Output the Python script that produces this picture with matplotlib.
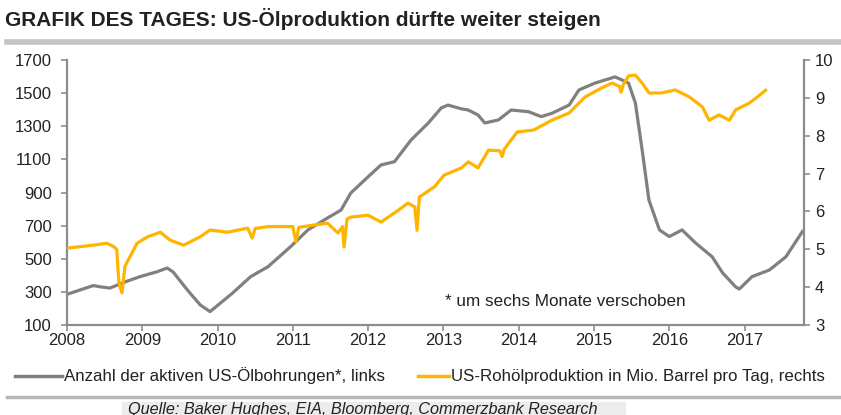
import matplotlib
matplotlib.use("Agg")
import matplotlib.pyplot as plt
from matplotlib.lines import Line2D
from matplotlib.patches import Rectangle

plt.rcParams['font.family'] = ['Liberation Sans', 'DejaVu Sans']

# ---- data (decimal years) ----
rig_years = [2008.0, 2008.17, 2008.35, 2008.45, 2008.57, 2008.8, 2008.97, 2009.2, 2009.33, 2009.41,
             2009.6, 2009.77, 2009.9, 2010.04, 2010.2, 2010.44, 2010.67, 2010.97, 2011.2, 2011.46,
             2011.64, 2011.77, 2012.0, 2012.17, 2012.35, 2012.57, 2012.8, 2012.97, 2013.06, 2013.24,
             2013.33, 2013.46, 2013.55, 2013.73, 2013.9, 2014.13, 2014.3, 2014.44, 2014.67, 2014.8,
             2015.01, 2015.28, 2015.37, 2015.46, 2015.55, 2015.64, 2015.73, 2015.87, 2016.0, 2016.17,
             2016.35, 2016.57, 2016.71, 2016.88, 2016.93, 2017.1, 2017.33, 2017.55, 2017.77]
rig_count = [285, 311, 338, 330, 323, 365, 392, 422, 444, 420,
             311, 221, 181, 233, 293, 392, 452, 573, 674, 746,
             794, 897, 995, 1066, 1086, 1217, 1320, 1410, 1428, 1405,
             1398, 1368, 1320, 1338, 1398, 1388, 1358, 1378, 1428, 1519,
             1560, 1598, 1580, 1560, 1440, 1157, 855, 674, 634, 674,
             595, 512, 414, 331, 317, 392, 432, 512, 665]

prod_years = [2008.0, 2008.35, 2008.53, 2008.62, 2008.66, 2008.69, 2008.73, 2008.77, 2008.93, 2009.07,
              2009.24, 2009.37, 2009.55, 2009.77, 2009.9, 2010.13, 2010.4, 2010.46, 2010.5, 2010.67,
              2011.0, 2011.04, 2011.08, 2011.28, 2011.46, 2011.6, 2011.66, 2011.68, 2011.72, 2011.77,
              2012.0, 2012.17, 2012.35, 2012.53, 2012.62, 2012.65, 2012.68, 2012.88, 2013.01, 2013.24,
              2013.33, 2013.46, 2013.6, 2013.75, 2013.78, 2013.81, 2013.98, 2014.2, 2014.44, 2014.67,
              2014.88, 2015.1, 2015.24, 2015.34, 2015.36, 2015.39, 2015.46, 2015.55, 2015.64, 2015.73,
              2015.9, 2016.08, 2016.27, 2016.44, 2016.53, 2016.66, 2016.8, 2016.88, 2017.06, 2017.15,
              2017.28]
prod_mbd = [5.03, 5.11, 5.16, 5.07, 5.0, 4.1, 3.85, 4.55, 5.16, 5.33,
            5.45, 5.24, 5.11, 5.33, 5.51, 5.45, 5.56, 5.3, 5.55, 5.6,
            5.6, 5.2, 5.58, 5.64, 5.69, 5.43, 5.6, 5.06, 5.8, 5.85,
            5.9, 5.72, 5.96, 6.22, 6.12, 5.5, 6.38, 6.65, 6.96, 7.15,
            7.31, 7.15, 7.62, 7.6, 7.45, 7.65, 8.1, 8.15, 8.41, 8.6,
            9.02, 9.26, 9.39, 9.3, 9.15, 9.35, 9.58, 9.6, 9.39, 9.13,
            9.13, 9.21, 9.02, 8.76, 8.41, 8.55, 8.41, 8.68, 8.86, 8.99,
            9.2]

year_ticks = [2008, 2009, 2010, 2011, 2012, 2013, 2014, 2015, 2016, 2017]
left_ticks = [100, 300, 500, 700, 900, 1100, 1300, 1500, 1700]
right_ticks = [3, 4, 5, 6, 7, 8, 9, 10]

title = "GRAFIK DES TAGES: US-Ölproduktion dürfte weiter steigen"
label_rig = "Anzahl der aktiven US-Ölbohrungen*, links"
label_prod = "US-Rohölproduktion in Mio. Barrel pro Tag, rechts"
note = "* um sechs Monate verschoben"
source = "Quelle: Baker Hughes, EIA, Bloomberg, Commerzbank Research"

GRAY = "#808080"
YELLOW = "#FFB400"
TXT = "#222222"
AX = "#8c8c8c"

W, H = 841, 415
fig = plt.figure(figsize=(W / 100, H / 100), dpi=100)

def fx(px):
    return px / W

def fy(py):
    return 1 - py / H

ax = fig.add_axes([fx(67), fy(325), fx(804) - fx(67), fy(60) - fy(325)])
ax2 = ax.twinx()

ax.plot(rig_years, rig_count, color=GRAY, lw=2.3, solid_joinstyle='round', zorder=2)
ax2.plot(prod_years, prod_mbd, color=YELLOW, lw=2.3, solid_joinstyle='round', zorder=3)

ax.set_xlim(2008, 2017.79)
ax.set_ylim(100, 1700)
ax2.set_ylim(3, 10)
ax.set_xticks(year_ticks)
ax.set_xticklabels([str(y) for y in year_ticks])
ax.set_yticks(left_ticks)
ax2.set_yticks(right_ticks)

for a in (ax, ax2):
    a.spines['top'].set_visible(False)
    for s in ('left', 'right', 'bottom'):
        a.spines[s].set_color(AX)
        a.spines[s].set_linewidth(1.6)
    a.tick_params(colors=AX, labelcolor=TXT, labelsize=12, length=4, width=1.2, direction='out')
ax.spines['right'].set_visible(False)
ax2.spines['left'].set_visible(False)
ax2.spines['bottom'].set_visible(False)
ax.tick_params(axis='y', pad=7)
ax2.tick_params(axis='y', pad=4)
ax.tick_params(axis='x', pad=2)

ax2.text(fx(445), fy(301), note, transform=fig.transFigure, fontsize=12.3, color=TXT,
         va='center', ha='left')

# title and separators
fig.text(fx(5), fy(19), title, fontsize=15, fontweight='bold', color=TXT, va='center', ha='left')
fig.add_artist(Line2D([fx(7), 1.0], [fy(42), fy(42)], color="#c4c4c4", lw=4, transform=fig.transFigure))
fig.add_artist(Line2D([fx(7), 1.0], [fy(397), fy(397)], color="#b8b8b8", lw=2.5, transform=fig.transFigure))

# legend
fig.add_artist(Line2D([fx(15), fx(62)], [fy(376), fy(376)], color=GRAY, lw=2.5, transform=fig.transFigure))
fig.text(fx(64), fy(376), label_rig, fontsize=12.2, color=TXT, va='center', ha='left')
fig.add_artist(Line2D([fx(418), fx(449)], [fy(376), fy(376)], color=YELLOW, lw=2.5, transform=fig.transFigure))
fig.text(fx(451), fy(376), label_prod, fontsize=12.2, color=TXT, va='center', ha='left')

# source
fig.add_artist(Rectangle((fx(122), 0), fx(625) - fx(122), fy(402), color="#ececec",
                         transform=fig.transFigure, zorder=0))
fig.text(fx(128), fy(409), source, fontsize=11.7, style='italic', color=TXT, va='center', ha='left')

fig.savefig("out.png", dpi=100)
